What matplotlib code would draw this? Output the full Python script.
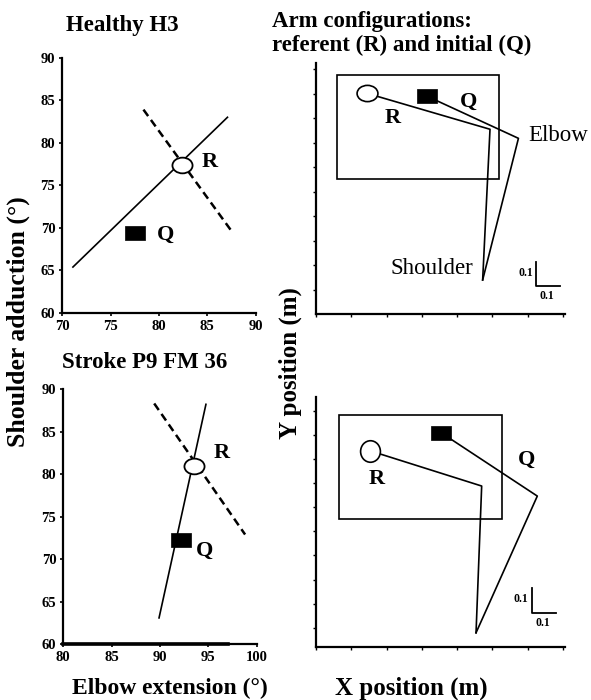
import numpy as np
import matplotlib
matplotlib.use('Agg')
import matplotlib.pyplot as plt
from matplotlib.path import Path
from matplotlib.patches import Rectangle

plt.rcParams['font.family'] = ['Liberation Serif', 'DejaVu Serif']

# ---------------- data ----------------
# Joint-angle plane: elbow extension (deg) vs shoulder adduction (deg)
healthy_solid_elbow = [71.1, 87.1]
healthy_solid_shoulder = [65.4, 83.0]
healthy_dashed_elbow = [78.4, 87.6]
healthy_dashed_shoulder = [83.9, 69.5]
healthy_R_elbow, healthy_R_shoulder = 82.4, 77.4
healthy_Q_elbow, healthy_Q_shoulder = 77.55, 69.45

stroke_solid_elbow = [89.9, 94.75]
stroke_solid_shoulder = [63.1, 88.2]
stroke_dashed_elbow = [89.4, 98.8]
stroke_dashed_shoulder = [88.3, 72.9]
stroke_R_elbow, stroke_R_shoulder = 93.5, 81.0
stroke_Q_elbow, stroke_Q_shoulder = 92.2, 72.3
stroke_baseline_elbow = [80, 97]
stroke_baseline_shoulder = [60, 60]

healthy_xticks = [70, 75, 80, 85, 90]
stroke_xticks = [80, 85, 90, 95, 100]
shoulder_yticks = [60, 65, 70, 75, 80, 85, 90]

# Arm configurations (m): points are hand, elbow, shoulder
healthy_arm_R_x = [0.207, 0.710, 0.680]
healthy_arm_R_y = [0.901, 0.754, 0.139]
healthy_arm_Q_x = [0.453, 0.826, 0.680]
healthy_arm_Q_y = [0.889, 0.717, 0.139]
healthy_workspace = [0.087, 0.550, 0.661, 0.426]   # x0, y0, width, height

stroke_arm_R_x = [0.220, 0.676, 0.653]
stroke_arm_R_y = [0.801, 0.657, 0.058]
stroke_arm_Q_x = [0.510, 0.903, 0.653]
stroke_arm_Q_y = [0.875, 0.616, 0.058]
stroke_workspace = [0.095, 0.522, 0.663, 0.425]

scale_bar_len = 0.1
healthy_scale_origin = [0.897, 0.114]
stroke_scale_origin = [0.880, 0.140]

pos_xticks = [0.144 * k for k in range(8)]
healthy_pos_yticks = [0.1 * k for k in range(1, 11)]
stroke_pos_yticks = [0.078 + 0.0985 * k for k in range(10)]

# ---------------- markers ----------------
def ellipse_marker(rx, ry):
    c = Path.unit_circle()
    v = c.vertices * np.array([rx, ry])
    return Path(v, c.codes)

def rect_marker(w, h):
    return Path([(-w / 2, -h / 2), (w / 2, -h / 2), (w / 2, h / 2), (-w / 2, h / 2), (-w / 2, -h / 2)],
                [Path.MOVETO, Path.LINETO, Path.LINETO, Path.LINETO, Path.CLOSEPOLY])

ell_flat = ellipse_marker(1.0, 0.78)
ell_tall = ellipse_marker(0.92, 1.0)
sq_marker = rect_marker(1.0, 0.66)

fig = plt.figure(figsize=(5.91, 7.0), dpi=100)

W, H = 591.0, 700.0
def ax_at(l, t, r, b):
    return fig.add_axes([l / W, 1 - b / H, (r - l) / W, (b - t) / H])

bold = dict(fontweight='bold')
LBL = 16  # R / Q labels

def style_angle_axis(ax, xticks):
    for s in ['top', 'right']:
        ax.spines[s].set_visible(False)
    for s in ['left', 'bottom']:
        ax.spines[s].set_linewidth(1.6)
    ax.set_xticks(xticks)
    ax.set_yticks(shoulder_yticks)
    ax.tick_params(direction='out', length=2.5, width=1.2, labelsize=10.5, pad=2.5)
    for lab in ax.get_xticklabels() + ax.get_yticklabels():
        lab.set_fontweight('bold')

DASH = (3.2, 1.9)

# ---- Healthy H3 ----
ax1 = ax_at(62.3, 57.7, 255.5, 313)
ax1.plot(healthy_solid_elbow, healthy_solid_shoulder, color='black', lw=1.2, zorder=2)
ax1.plot(healthy_dashed_elbow, healthy_dashed_shoulder, color='black', lw=1.8,
         dashes=DASH, zorder=2)
ax1.plot([healthy_R_elbow], [healthy_R_shoulder], marker=ell_flat, ms=14.5,
         mfc='white', mec='black', mew=1.3, zorder=4)
ax1.plot([healthy_Q_elbow], [healthy_Q_shoulder], marker=sq_marker, ms=15,
         mfc='black', mec='black', mew=0.5, zorder=4)
ax1.annotate('R', (healthy_R_elbow, healthy_R_shoulder), xytext=(20, 2), textcoords='offset points',
             ha='center', va='center', fontsize=LBL, **bold)
ax1.annotate('Q', (healthy_Q_elbow, healthy_Q_shoulder), xytext=(22, -2), textcoords='offset points',
             ha='center', va='center', fontsize=LBL, **bold)
ax1.set_xlim(70, 90)
ax1.set_ylim(60, 90)
style_angle_axis(ax1, healthy_xticks)

# ---- Stroke P9 FM 36 ----
ax2 = ax_at(63.3, 389, 256.7, 644.3)
ax2.plot(stroke_solid_elbow, stroke_solid_shoulder, color='black', lw=1.2, zorder=2)
ax2.plot(stroke_dashed_elbow, stroke_dashed_shoulder, color='black', lw=1.8,
         dashes=DASH, zorder=2)
ax2.plot(stroke_baseline_elbow, stroke_baseline_shoulder, color='black', lw=2.6,
         clip_on=False, zorder=3)
ax2.plot([stroke_R_elbow], [stroke_R_shoulder], marker=ell_flat, ms=14.5,
         mfc='white', mec='black', mew=1.3, zorder=4)
ax2.plot([stroke_Q_elbow], [stroke_Q_shoulder], marker=sq_marker, ms=15,
         mfc='black', mec='black', mew=0.5, zorder=4)
ax2.annotate('R', (stroke_R_elbow, stroke_R_shoulder), xytext=(20, 9), textcoords='offset points',
             ha='center', va='center', fontsize=LBL, **bold)
ax2.annotate('Q', (stroke_Q_elbow, stroke_Q_shoulder), xytext=(17, -8), textcoords='offset points',
             ha='center', va='center', fontsize=LBL, **bold)
ax2.set_xlim(80, 100)
ax2.set_ylim(60, 90)
style_angle_axis(ax2, stroke_xticks)

# ---- Arm configuration panels ----
def style_pos_axis(ax, yticks, ylim):
    for s in ['top', 'right']:
        ax.spines[s].set_visible(False)
    for s in ['left', 'bottom']:
        ax.spines[s].set_linewidth(1.6)
    ax.set_xlim(0, 1.016)
    ax.set_ylim(0, ylim)
    ax.set_xticks(pos_xticks)
    ax.set_yticks(yticks)
    ax.set_xticklabels([])
    ax.set_yticklabels([])
    ax.tick_params(direction='out', length=2, width=1)

def draw_scale(ax, origin):
    x0, y0 = origin
    ax.plot([x0, x0, x0 + scale_bar_len], [y0 + scale_bar_len, y0, y0], color='black', lw=1.3)
    ax.text(x0 - 0.012, y0 + scale_bar_len * 0.55, '0.1', ha='right', va='center', fontsize=8.5, **bold)
    ax.text(x0 + scale_bar_len * 0.45, y0 - 0.018, '0.1', ha='center', va='top', fontsize=8.5, **bold)

# healthy arm
ax3 = ax_at(316, 63, 565, 314)
ax3.add_patch(Rectangle((healthy_workspace[0], healthy_workspace[1]), healthy_workspace[2],
                        healthy_workspace[3], fill=False, ec='black', lw=1.2))
ax3.plot(healthy_arm_R_x, healthy_arm_R_y, color='black', lw=1.2, zorder=2)
ax3.plot(healthy_arm_Q_x, healthy_arm_Q_y, color='black', lw=1.2, zorder=2)
ax3.plot([healthy_arm_R_x[0]], [healthy_arm_R_y[0]], marker=ell_flat, ms=15,
         mfc='white', mec='black', mew=1.2, zorder=4)
ax3.plot([healthy_arm_Q_x[0]], [healthy_arm_Q_y[0]], marker=sq_marker, ms=15,
         mfc='black', mec='black', mew=0.5, zorder=4)
ax3.annotate('R', (healthy_arm_R_x[0], healthy_arm_R_y[0]), xytext=(19, -18), textcoords='offset points',
             ha='center', va='center', fontsize=LBL, **bold)
ax3.annotate('Q', (healthy_arm_Q_x[0], healthy_arm_Q_y[0]), xytext=(30, -4), textcoords='offset points',
             ha='center', va='center', fontsize=LBL, **bold)
ax3.annotate('Elbow', (healthy_arm_Q_x[1], healthy_arm_Q_y[1]), xytext=(7, 2), textcoords='offset points',
             ha='left', va='center', fontsize=16.5)
ax3.annotate('Shoulder', (healthy_arm_Q_x[2], healthy_arm_Q_y[2]), xytext=(-7, 8), textcoords='offset points',
             ha='right', va='center', fontsize=16.5)
draw_scale(ax3, healthy_scale_origin)
style_pos_axis(ax3, healthy_pos_yticks, 1.0245)

# stroke arm
ax4 = ax_at(316, 397, 565, 647)
ax4.add_patch(Rectangle((stroke_workspace[0], stroke_workspace[1]), stroke_workspace[2],
                        stroke_workspace[3], fill=False, ec='black', lw=1.2))
ax4.plot(stroke_arm_R_x, stroke_arm_R_y, color='black', lw=1.2, zorder=2)
ax4.plot(stroke_arm_Q_x, stroke_arm_Q_y, color='black', lw=1.2, zorder=2)
ax4.plot([stroke_arm_R_x[0]], [stroke_arm_R_y[0]], marker=ell_tall, ms=15.5,
         mfc='white', mec='black', mew=1.2, zorder=4)
ax4.plot([stroke_arm_Q_x[0]], [stroke_arm_Q_y[0]], marker=sq_marker, ms=15,
         mfc='black', mec='black', mew=0.5, zorder=4)
ax4.annotate('R', (stroke_arm_R_x[0], stroke_arm_R_y[0]), xytext=(5, -20), textcoords='offset points',
             ha='center', va='center', fontsize=LBL, **bold)
ax4.annotate('Q', (stroke_arm_Q_x[1], stroke_arm_Q_y[1]), xytext=(-8, 26), textcoords='offset points',
             ha='center', va='center', fontsize=LBL, **bold)
draw_scale(ax4, stroke_scale_origin)
style_pos_axis(ax4, stroke_pos_yticks, 1.0204)

# ---- titles and axis labels ----
TT = 16.5
fig.text(66 / W, 1 - 25 / H, 'Healthy H3', ha='left', va='center', fontsize=TT, **bold)
fig.text(62 / W, 1 - 362 / H, 'Stroke P9 FM 36', ha='left', va='center', fontsize=TT, **bold)
fig.text(272 / W, 1 - 22 / H, 'Arm configurations:', ha='left', va='center', fontsize=TT, **bold)
fig.text(272 / W, 1 - 45 / H, 'referent (R) and initial (Q)', ha='left', va='center', fontsize=TT, **bold)
fig.text(18 / W, 1 - 322 / H, 'Shoulder adduction (°)', rotation=90, ha='center', va='center',
         fontsize=18.5, **bold)
fig.text(170 / W, 1 - 688 / H, 'Elbow extension (°)', ha='center', va='center', fontsize=17, **bold)
fig.text(290 / W, 1 - 363 / H, 'Y position (m)', rotation=90, ha='center', va='center',
         fontsize=18, **bold)
fig.text(411 / W, 1 - 688 / H, 'X position (m)', ha='center', va='center', fontsize=18, **bold)

fig.savefig('out.png', dpi=100)
